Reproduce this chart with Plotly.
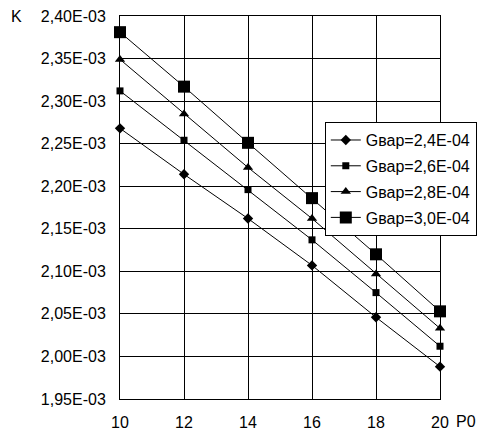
import plotly.graph_objects as go

x_vals = [10, 12, 14, 16, 18, 20]
series_names = ["Gвар=2,4E-04", "Gвар=2,6E-04", "Gвар=2,8E-04", "Gвар=3,0E-04"]
k_24 = [2.268e-3, 2.214e-3, 2.162e-3, 2.107e-3, 2.046e-3, 1.988e-3]
k_26 = [2.312e-3, 2.254e-3, 2.196e-3, 2.137e-3, 2.075e-3, 2.012e-3]
k_28 = [2.349e-3, 2.285e-3, 2.222e-3, 2.162e-3, 2.097e-3, 2.033e-3]
k_30 = [2.381e-3, 2.317e-3, 2.251e-3, 2.186e-3, 2.120e-3, 2.053e-3]
y_ticks = [1.95e-3, 2.00e-3, 2.05e-3, 2.10e-3, 2.15e-3, 2.20e-3, 2.25e-3, 2.30e-3, 2.35e-3, 2.40e-3]
y_tick_labels = ["1,95E-03", "2,00E-03", "2,05E-03", "2,10E-03", "2,15E-03",
                 "2,20E-03", "2,25E-03", "2,30E-03", "2,35E-03", "2,40E-03"]
x_ticks = [10, 12, 14, 16, 18, 20]

series = [k_24, k_26, k_28, k_30]
symbols = ["diamond", "square", "triangle-up", "square"]
sizes = [8, 7, 9, 12]

fig = go.Figure()
for i, (name, ys) in enumerate(zip(series_names, series)):
    fig.add_trace(go.Scatter(
        x=x_vals, y=ys, name=name, mode="lines+markers",
        line=dict(color="black", width=1),
        marker=dict(symbol=symbols[i], size=sizes[i], color="black"),
        cliponaxis=False, legendgroup=str(i),
    ))

font = dict(family="Liberation Sans, Arial, sans-serif", size=16, color="black")
fig.update_layout(
    width=482, height=432,
    margin=dict(l=120, r=42, t=16, b=33, autoexpand=False),
    paper_bgcolor="white", plot_bgcolor="white",
    font=font,
    showlegend=True,
    legend=dict(x=0.64, y=0.723, xanchor="left", yanchor="top",
                bgcolor="white", bordercolor="black", borderwidth=1,
                font=font, tracegroupgap=2, traceorder="grouped"),
    xaxis=dict(range=[10, 20], tickvals=x_ticks, ticktext=[str(v) for v in x_ticks],
               showgrid=True, gridcolor="black", gridwidth=1,
               showline=True, linecolor="black", linewidth=1, mirror=True,
               ticks="outside", ticklen=9, tickcolor="rgba(0,0,0,0)",
               zeroline=False, automargin=False),
    yaxis=dict(range=[1.95e-3, 2.40e-3], tickvals=y_ticks, ticktext=y_tick_labels,
               showgrid=True, gridcolor="black", gridwidth=1,
               showline=True, linecolor="black", linewidth=1, mirror=True,
               ticks="outside", ticklen=10, tickcolor="rgba(0,0,0,0)",
               zeroline=False, automargin=False),
    annotations=[
        dict(text="K", xref="paper", yref="paper", x=-0.322, y=1.0, xanchor="center",
             yanchor="middle", showarrow=False, font=font),
        dict(text="P0", xref="paper", yref="paper", x=1.081, y=-0.060, xanchor="center",
             yanchor="middle", showarrow=False, font=font),
    ],
)

fig.write_html("out.html", config={"displayModeBar": False},
               post_script="document.body.style.margin='0';")
